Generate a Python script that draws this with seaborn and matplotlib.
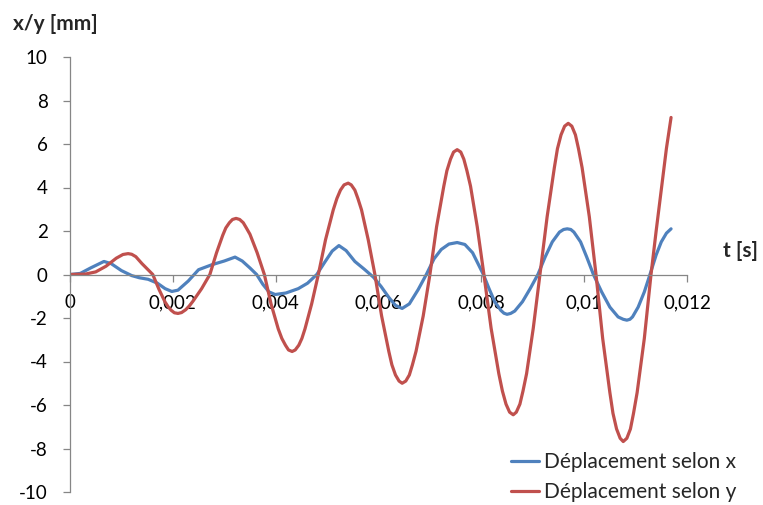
import pandas as pd
import numpy as np
import seaborn as sns
import matplotlib.pyplot as plt

# values (t in s, displacement in mm)
t_x = [0, 0.0002, 0.0004, 0.00066, 0.0008, 0.001, 0.0012, 0.00135, 0.00152, 0.0017,
       0.00185, 0.00198, 0.0021, 0.0023, 0.0025, 0.00276, 0.003, 0.00321, 0.00335, 0.0035,
       0.00363, 0.00375, 0.00387, 0.00399, 0.0042, 0.00444, 0.00462, 0.0048, 0.00495, 0.0051,
       0.00523, 0.00537, 0.00554, 0.00572, 0.0059, 0.00605, 0.0062, 0.00633, 0.00646, 0.0066,
       0.00677, 0.00693, 0.00708, 0.00722, 0.00737, 0.00753, 0.00768, 0.00783, 0.00804, 0.00815,
       0.00826, 0.00838, 0.00844, 0.0085, 0.00857, 0.00865, 0.0088, 0.00895, 0.0091, 0.00924,
       0.00938, 0.00952, 0.0096, 0.00967, 0.00974, 0.0098, 0.00993, 0.01005, 0.01018, 0.01034,
       0.0105, 0.01066, 0.01076, 0.01083, 0.01089, 0.01094, 0.01105, 0.01117, 0.01128, 0.0114,
       0.0115, 0.0116, 0.01169]
dep_x = [0, 0.05, 0.3, 0.6, 0.5, 0.18, -0.05, -0.15, -0.22, -0.4,
         -0.65, -0.78, -0.72, -0.3, 0.22, 0.45, 0.62, 0.8, 0.62, 0.3,
         0, -0.45, -0.8, -0.92, -0.85, -0.65, -0.4, 0, 0.55, 1.08,
         1.33, 1.1, 0.6, 0.25, -0.12, -0.55, -1.05, -1.42, -1.56, -1.35,
         -0.7, 0, 0.72, 1.15, 1.4, 1.47, 1.38, 1.0, 0, -0.65,
         -1.25, -1.65, -1.78, -1.83, -1.79, -1.68, -1.25, -0.65, 0, 0.8,
         1.5, 1.95, 2.07, 2.1, 2.07, 1.95, 1.5, 0.8, 0, -0.8,
         -1.5, -1.95, -2.06, -2.1, -2.06, -1.95, -1.5, -0.8, 0, 0.9,
         1.5, 1.9, 2.1]

t_y = [0, 0.0003, 0.0005, 0.0007, 0.0009, 0.00103, 0.00113, 0.0012, 0.00128, 0.0014,
       0.00161, 0.00173, 0.00185, 0.00191, 0.00197, 0.00203, 0.0021, 0.00217, 0.00225, 0.00232,
       0.0024, 0.00256, 0.00272, 0.00285, 0.00297, 0.00303, 0.0031, 0.00316, 0.00323, 0.0033,
       0.00337, 0.00343, 0.0035, 0.00364, 0.00378, 0.00391, 0.00405, 0.00412, 0.00419, 0.00425,
       0.00432, 0.00438, 0.00445, 0.00451, 0.00457, 0.0047, 0.00483, 0.00497, 0.00512, 0.00519,
       0.00526, 0.00533, 0.00541, 0.00547, 0.00554, 0.0056, 0.00567, 0.0058, 0.00593, 0.00606,
       0.0062, 0.00626, 0.00633, 0.0064, 0.00646, 0.00653, 0.0066, 0.00666, 0.00673, 0.00687,
       0.007, 0.00713, 0.00727, 0.00733, 0.0074, 0.00746, 0.00753, 0.0076, 0.00766, 0.00772,
       0.00779, 0.00792, 0.00805, 0.00819, 0.00834, 0.00841, 0.00848, 0.00855, 0.00862, 0.00868,
       0.00875, 0.00881, 0.00888, 0.00901, 0.00914, 0.00928, 0.00942, 0.00948, 0.00955, 0.00962,
       0.00969, 0.00976, 0.00983, 0.00989, 0.00996, 0.0101, 0.01023, 0.01036, 0.0105, 0.01056,
       0.01063, 0.0107, 0.01076, 0.01083, 0.0109, 0.01096, 0.01103, 0.01117, 0.0113, 0.0114,
       0.0115, 0.0116, 0.01169]
dep_y = [0, 0.02, 0.12, 0.38, 0.75, 0.92, 0.96, 0.93, 0.82, 0.5,
         0, -0.68, -1.27, -1.49, -1.65, -1.76, -1.79, -1.75, -1.62, -1.45,
         -1.2, -0.65, 0, 1.0, 1.8, 2.14, 2.38, 2.53, 2.58, 2.53,
         2.38, 2.14, 1.85, 1.0, 0, -1.35, -2.5, -2.94, -3.25, -3.47,
         -3.54, -3.47, -3.25, -2.94, -2.5, -1.35, 0, 1.6, 2.97, 3.49,
         3.88, 4.12, 4.2, 4.12, 3.88, 3.49, 2.97, 1.6, 0, -1.9,
         -3.53, -4.15, -4.62, -4.9, -5.0, -4.9, -4.62, -4.15, -3.53, -1.9,
         0, 2.2, 4.06, 4.77, 5.3, 5.63, 5.74, 5.63, 5.3, 4.77,
         4.06, 2.2, 0, -2.47, -4.56, -5.36, -5.96, -6.33, -6.45, -6.33,
         -5.96, -5.36, -4.56, -2.47, 0, 2.66, 4.91, 5.78, 6.42, 6.82,
         6.95, 6.82, 6.42, 5.78, 4.91, 2.66, 0, -2.94, -5.43, -6.38,
         -7.1, -7.53, -7.68, -7.53, -7.1, -6.38, -5.43, -2.94, 0, 2.0,
         3.9, 5.8, 7.22]

series_names = ["Déplacement selon x", "Déplacement selon y"]
x_ticks = [0, 0.002, 0.004, 0.006, 0.008, 0.01, 0.012]
x_tick_labels = ["0", "0,002", "0,004", "0,006", "0,008", "0,01", "0,012"]
y_ticks = [-10, -8, -6, -4, -2, 0, 2, 4, 6, 8, 10]
y_tick_labels = ["-10", "-8", "-6", "-4", "-2", "0", "2", "4", "6", "8", "10"]

df = pd.concat([
    pd.DataFrame({"t": t_x, "dep": dep_x, "serie": series_names[0]}),
    pd.DataFrame({"t": t_y, "dep": dep_y, "serie": series_names[1]}),
], ignore_index=True)

sns.set_theme(style="white")
plt.rcParams['font.family'] = ['Lato', 'DejaVu Sans']

fig = plt.figure(figsize=(7.63, 5.05), dpi=100)
ax = fig.add_axes([70 / 763, 1 - 492 / 505, (687 - 70) / 763, (492 - 57) / 505])

palette = {series_names[0]: "#4F81BD", series_names[1]: "#C0504D"}
sns.lineplot(data=df, x="t", y="dep", hue="serie", palette=palette,
             estimator=None, sort=False, linewidth=2.3, ax=ax)
for line in ax.lines:
    line.set_solid_joinstyle("round")
    line.set_solid_capstyle("round")

ax.set_xlim(0, 0.012)
ax.set_ylim(-10, 10)
ax.set_xlabel("")
ax.set_ylabel("")

# axes cross at zero, like the spreadsheet chart
grey = "#868686"
ax.spines["bottom"].set_position(("data", 0))
ax.spines["top"].set_visible(False)
ax.spines["right"].set_visible(False)
for s in ("bottom", "left"):
    ax.spines[s].set_color(grey)
    ax.spines[s].set_linewidth(0.9)

ax.set_xticks(x_ticks)
ax.set_xticklabels(x_tick_labels)
ax.set_yticks(y_ticks)
ax.set_yticklabels(y_tick_labels)
ax.tick_params(axis="both", which="both", direction="out", length=5, width=0.9,
               color=grey, labelsize=13.5, labelcolor="black")
ax.tick_params(axis="x", pad=9, bottom=True)
ax.tick_params(axis="y", pad=11, left=True)

fig.text(13 / 763, 1 - 30 / 505, "x/y [mm]", fontsize=15, fontweight="bold", ha="left", va="baseline")
fig.text(758 / 763, 1 - 257 / 505, "t [s]", fontsize=15, fontweight="bold", ha="right", va="baseline")

ax.legend(frameon=False, loc="upper left", bbox_to_anchor=(511 / 763, 1 - 452 / 505),
          bbox_transform=fig.transFigure, fontsize=15, handlelength=1.35, handletextpad=0.25,
          labelspacing=0.5, borderaxespad=0, borderpad=0)

fig.savefig("out.png", dpi=100)
